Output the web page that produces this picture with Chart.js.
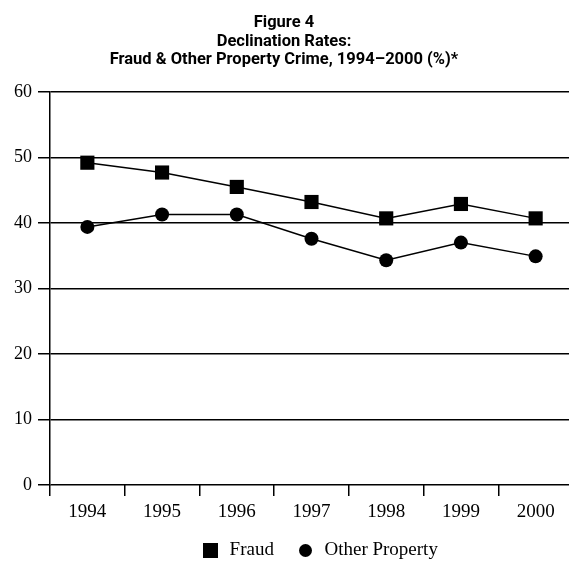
<!DOCTYPE html>
<html>
<head>
<meta charset="utf-8">
<script src="https://cdn.jsdelivr.net/npm/chart.js@4.4.1/dist/chart.umd.min.js"></script>
<style>
html, body { margin: 0; padding: 0; overflow: hidden; background: #fff; }
canvas { display: block; }
</style>
</head>
<body>
<canvas id="declinationChart" width="575" height="570"></canvas>
<script>
// values (percent)
const years = ['1994', '1995', '1996', '1997', '1998', '1999', '2000'];
const fraud = [49.2, 47.7, 45.5, 43.2, 40.7, 42.9, 40.7];
const otherProperty = [39.4, 41.3, 41.3, 37.6, 34.3, 37.0, 34.9];
const yMin = 0;
const yMax = 60;
const yStep = 10;
const titleLines = ['Figure 4', 'Declination Rates:', 'Fraud & Other Property Crime, 1994\u20132000 (%)*'];
const seriesNames = ['Fraud', 'Other Property'];

const serif = "'Liberation Serif', 'DejaVu Serif', serif";
const sans = "Roboto, 'Liberation Sans', sans-serif";

// legend swatches: square is bigger than the dot in the original
function makeIcon(kind) {
    const c = document.createElement('canvas');
    c.width = 15;
    c.height = 15;
    const g = c.getContext('2d');
    g.fillStyle = '#000';
    if (kind === 'rect') {
        g.fillRect(0, 0, 15, 15);
    } else {
        g.beginPath();
        g.arc(7.5, 7.5, 6.5, 0, Math.PI * 2);
        g.fill();
    }
    return c;
}
const legendIcons = [makeIcon('rect'), makeIcon('circle')];

// nudge legend right and title left, as in the original
const blockShift = {
    id: 'blockShift',
    afterLayout(c) {
        c.legend.left += 8;
        c.legend.right += 8;
        c.titleBlock.left -= 2.5;
        c.titleBlock.right -= 2.5;
    }
};

Chart.defaults.color = '#000';
const ctx = document.getElementById('declinationChart').getContext('2d');
const chart = new Chart(ctx, {
    type: 'line',
    data: {
        labels: years,
        datasets: [{
            label: seriesNames[0],
            data: fraud,
            borderColor: '#000',
            backgroundColor: '#000',
            borderWidth: 1.5,
            tension: 0,
            pointStyle: 'rect',
            pointRadius: 10,
            pointBorderWidth: 0
        }, {
            label: seriesNames[1],
            data: otherProperty,
            borderColor: '#000',
            backgroundColor: '#000',
            borderWidth: 1.5,
            tension: 0,
            pointStyle: 'circle',
            pointRadius: 7,
            pointBorderWidth: 0
        }]
    },
    options: {
        responsive: false,
        animation: false,
        layout: { autoPadding: false, padding: { left: 0, right: 2, top: 0, bottom: 0 } },
        plugins: {
            tooltip: { enabled: false },
            title: {
                display: true,
                text: titleLines,
                color: '#000',
                font: { family: sans, size: 16.5, weight: 'bold', lineHeight: 1.12 },
                padding: { top: 14, bottom: 22.5 }
            },
            legend: {
                position: 'bottom',
                fullSize: false,
                labels: {
                    usePointStyle: true,
                    padding: 22,
                    color: '#000',
                    font: { family: serif, size: 19, lineHeight: 1 },
                    generateLabels: function(chart) {
                        const items = Chart.defaults.plugins.legend.labels.generateLabels(chart);
                        items.forEach((it, i) => { it.pointStyle = legendIcons[i]; });
                        return items;
                    }
                }
            }
        },
        scales: {
            x: {
                offset: true,
                grid: {
                    offset: true,
                    drawOnChartArea: false,
                    color: '#000',
                    lineWidth: 1.5,
                    tickLength: 11
                },
                border: { display: false },
                ticks: {
                    padding: 5,
                    maxRotation: 0,
                    font: { family: serif, size: 19 }
                },
                afterFit: s => { s.height = 34; }
            },
            y: {
                min: yMin,
                max: yMax,
                ticks: {
                    stepSize: yStep,
                    padding: 6,
                    font: { family: serif, size: 18 }
                },
                grid: {
                    color: '#000',
                    lineWidth: 1.5,
                    tickLength: 12
                },
                border: { color: '#000', width: 1.5 },
                afterFit: s => { s.width = 50; }
            }
        }
    },
    plugins: [blockShift]
});
</script>
</body>
</html>
